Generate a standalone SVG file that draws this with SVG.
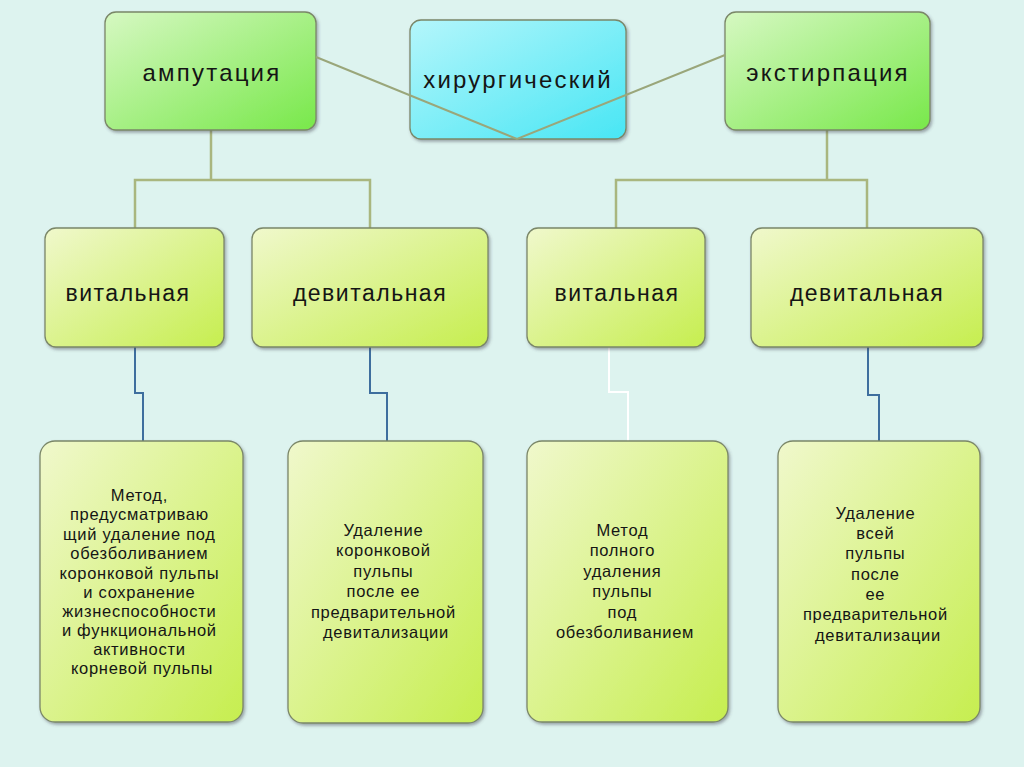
<svg xmlns="http://www.w3.org/2000/svg" width="1024" height="767" viewBox="0 0 1024 767">
<defs>
<linearGradient id="gTop" x1="0" y1="0" x2="1" y2="1">
<stop offset="0" stop-color="#d6f8c2"/><stop offset="1" stop-color="#78e84a"/>
</linearGradient>
<linearGradient id="gCyan" x1="0" y1="0" x2="1" y2="1">
<stop offset="0" stop-color="#b4f6fb"/><stop offset="1" stop-color="#48e6f4"/>
</linearGradient>
<linearGradient id="gMid" x1="0" y1="0" x2="1" y2="1">
<stop offset="0" stop-color="#f0f8cc"/><stop offset="1" stop-color="#c6ee4f"/>
</linearGradient>
<filter id="sh" x="-10%" y="-10%" width="125%" height="125%">
<feDropShadow dx="1.5" dy="2" stdDeviation="1.8" flood-color="#445" flood-opacity="0.45"/>
</filter>
<style>
.box{stroke:#7a8668;stroke-width:1.3;filter:url(#sh)}
.top{fill:url(#gTop)}
.cyan{fill:url(#gCyan)}
.mid{fill:url(#gMid)}
.t{font-family:"Liberation Sans",Arial,sans-serif;fill:#151515;text-anchor:middle}
.huge{font-size:24px;letter-spacing:2.2px}
.big{font-size:23px;letter-spacing:1.5px}
.small{font-size:16.5px;letter-spacing:0.7px}
.olive{fill:none;stroke:#a9b67f;stroke-width:2.5}
.diag{fill:none;stroke:#9aa67a;stroke-width:2}
.blue{fill:none;stroke:#3e6e9e;stroke-width:2}
.white{fill:none;stroke:#ffffff;stroke-width:2}
</style>
</defs>
<rect width="1024" height="767" fill="#ddf3ef"/>

<g id="connectors">
<path class="olive" d="M211 130 V180 M135 228 V180 H370 V228"/>
<path class="olive" d="M827 130 V180 M616 228 V180 H867 V228"/>
<path class="blue" d="M135 347 V393 H143 V441"/>
<path class="blue" d="M370 347 V393 H387 V441"/>
<path class="white" d="M609 347 V392 H628 V441"/>
<path class="blue" d="M868 347 V395 H879 V441"/>
</g>

<g id="n-amputation">
<rect class="box top" x="105" y="12" width="211" height="118" rx="11"/>
<text class="t huge" x="212" y="81">ампутация</text>
</g>
<g id="n-surgical">
<rect class="box cyan" x="410" y="20" width="216" height="119" rx="11"/>
<text class="t huge" x="518" y="88">хирургический</text>
</g>
<g id="n-extirpation">
<rect class="box top" x="725" y="12" width="205" height="118" rx="11"/>
<text class="t huge" x="828" y="81">экстирпация</text>
</g>

<g id="diag-connectors">
<path class="diag" d="M316 57 L517 139 L725 55"/>
</g>

<g id="n-vital1">
<rect class="box mid" x="45" y="228" width="179" height="119" rx="11"/>
<text class="t big" x="128" y="301">витальная</text>
</g>
<g id="n-devital1">
<rect class="box mid" x="252" y="228" width="236" height="119" rx="11"/>
<text class="t big" x="370" y="301">девитальная</text>
</g>
<g id="n-vital2">
<rect class="box mid" x="527" y="228" width="178" height="119" rx="11"/>
<text class="t big" x="617" y="301">витальная</text>
</g>
<g id="n-devital2">
<rect class="box mid" x="751" y="228" width="232" height="119" rx="11"/>
<text class="t big" x="867" y="301">девитальная</text>
</g>

<g id="n-desc1">
<rect class="box mid" x="40" y="441" width="203" height="281" rx="15"/>
<text class="t small" x="142">
<tspan x="142" y="501">Метод,</tspan>
<tspan x="142" y="520">предусматриваю</tspan>
<tspan x="142" y="540">щий удаление под</tspan>
<tspan x="142" y="559">обезболиванием</tspan>
<tspan x="142" y="579">коронковой пульпы</tspan>
<tspan x="142" y="598">и сохранение</tspan>
<tspan x="142" y="617">жизнеспособности</tspan>
<tspan x="142" y="636">и функциональной</tspan>
<tspan x="142" y="655">активности</tspan>
<tspan x="142" y="674">корневой пульпы</tspan>
</text>
</g>
<g id="n-desc2">
<rect class="box mid" x="288" y="441" width="195" height="282" rx="15"/>
<text class="t small" x="386">
<tspan x="386" y="536">Удаление</tspan>
<tspan x="386" y="556">коронковой</tspan>
<tspan x="386" y="577">пульпы</tspan>
<tspan x="386" y="597">после ее</tspan>
<tspan x="386" y="618">предварительной</tspan>
<tspan x="386" y="638">девитализации</tspan>
</text>
</g>
<g id="n-desc3">
<rect class="box mid" x="527" y="441" width="201" height="281" rx="15"/>
<text class="t small" x="625">
<tspan x="625" y="536">Метод</tspan>
<tspan x="625" y="556">полного</tspan>
<tspan x="625" y="577">удаления</tspan>
<tspan x="625" y="597">пульпы</tspan>
<tspan x="625" y="618">под</tspan>
<tspan x="625" y="638">обезболиванием</tspan>
</text>
</g>
<g id="n-desc4">
<rect class="box mid" x="778" y="441" width="202" height="281" rx="15"/>
<text class="t small" x="878">
<tspan x="878" y="519">Удаление</tspan>
<tspan x="878" y="539">всей</tspan>
<tspan x="878" y="559">пульпы</tspan>
<tspan x="878" y="580">после</tspan>
<tspan x="878" y="600">ее</tspan>
<tspan x="878" y="620">предварительной</tspan>
<tspan x="878" y="641">девитализации</tspan>
</text>
</g>
</svg>
